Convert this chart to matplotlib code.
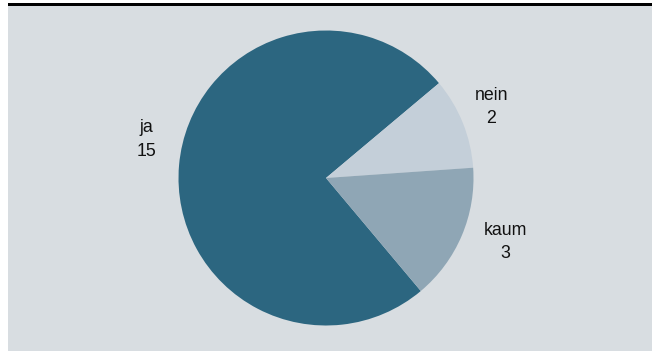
import matplotlib.pyplot as plt
from matplotlib.patches import Rectangle

plt.rcParams['font.family'] = ['Liberation Sans', 'DejaVu Sans']

# antworten
labels = ['ja', 'nein', 'kaum']
counts = [15, 2, 3]
colors = ['#2c6680', '#c4cfd9', '#8fa6b5']
# label-positionen (einheiten des kreisradius)
label_pos = [(-1.22, 0.26), (1.12, 0.48), (1.214, -0.435)]

fig = plt.figure(figsize=(6.53, 3.51), dpi=100)
fig.patch.set_facecolor('white')

# grauer hintergrund + schwarzer balken oben
fig.patches.append(Rectangle((8 / 653, 0), 644 / 653, 345 / 351, transform=fig.transFigure,
                             facecolor='#d8dde1', edgecolor='none', zorder=-5))
fig.patches.append(Rectangle((8 / 653, 345 / 351), 644 / 653, 3.2 / 351, transform=fig.transFigure,
                             facecolor='black', edgecolor='none', zorder=-5))

ax = fig.add_axes([178.5 / 653, 25.5 / 351, 295 / 653, 295 / 351])
ax.set_zorder(5)
ax.set_facecolor('none')

texts = ax.pie(counts, colors=colors, startangle=310, counterclock=False,
               labels=[f'{l}\n{c}' for l, c in zip(labels, counts)],
               wedgeprops=dict(linewidth=0),
               textprops=dict(fontsize=12.8, color='#111111', linespacing=1.5))[1]
for t, pos in zip(texts, label_pos):
    t.set_position(pos)
    t.set_ha('center')
    t.set_va('center')

ax.set_xlim(-1, 1)
ax.set_ylim(-1, 1)
ax.axis('off')

fig.savefig('out.png', dpi=100)
